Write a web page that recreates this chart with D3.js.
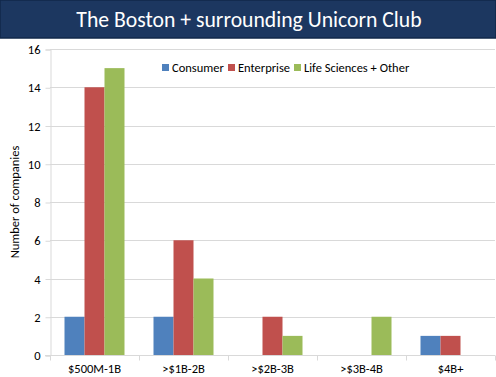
<!DOCTYPE html>
<meta charset="utf-8">
<title>The Boston + surrounding Unicorn Club</title>
<style>
    body { margin: 0; background: #fff; }
    text { font-family: Calibri, Carlito, Lato, sans-serif; }
    .grid line { stroke: #d9d9d9; stroke-width: 1; }
    .axis path, .axis line { stroke: #d9d9d9; }
    .axis text { font-size: 11px; fill: #000; }
</style>
<svg width="496" height="377"></svg>
<script src="https://d3js.org/d3.v7.min.js"></script>
<script>

    var categories = ["$500M-1B", ">$1B-2B", ">$2B-3B", ">$3B-4B", "$4B+"];
    var seriesNames = ["Consumer", "Enterprise", "Life Sciences + Other"];
    var consumer = [2, 2, 0, 0, 1];
    var enterprise = [14, 6, 2, 0, 1];
    var lifeSciences = [15, 4, 1, 2, 0];
    var yTicks = [0, 2, 4, 6, 8, 10, 12, 14, 16];
    var colors = ["#4f81bd", "#c0504d", "#9bbb59"];

    var seriesValues = [consumer, enterprise, lifeSciences];

    var svg = d3.select("svg");

    // title banner
    svg.append("rect")
        .attr("x", 0).attr("y", 0)
        .attr("width", 496).attr("height", 38)
        .attr("fill", "#1c3760")
        .attr("stroke", "#10284a")
        .attr("stroke-width", 1.5);

    svg.append("text")
        .attr("x", 249).attr("y", 27)
        .attr("text-anchor", "middle")
        .attr("fill", "#fff")
        .style("font-size", "21.7px")
        .text("The Boston + surrounding Unicorn Club");

    var mLeft = 50, mRight = 495, mTop = 49, mBottom = 355;

    var x = d3.scaleBand()
        .domain(categories)
        .range([mLeft, mRight])
        .paddingInner(0)
        .paddingOuter(0);

    var x1 = d3.scaleBand()
        .domain(seriesNames)
        .range([0, x.bandwidth()])
        .paddingInner(0)
        .paddingOuter(0.725);

    var y = d3.scaleLinear()
        .domain([0, 16])
        .range([mBottom, mTop]);

    // gridlines
    svg.append("g")
        .attr("class", "grid")
        .selectAll("line")
        .data(yTicks.slice(1))
        .enter().append("line")
        .attr("x1", mLeft).attr("x2", mRight)
        .attr("y1", function (d) { return Math.round(y(d)) + 0.5; })
        .attr("y2", function (d) { return Math.round(y(d)) + 0.5; });

    // y axis
    var yAxis = svg.append("g")
        .attr("class", "axis")
        .attr("transform", "translate(" + (mLeft + 0.5) + ",0.5)")
        .call(d3.axisLeft(y).tickValues(yTicks).tickSize(5).tickPadding(5));
    yAxis.selectAll("text").style("font-size", "12.5px");

    // bars
    var groups = svg.append("g")
        .selectAll("g")
        .data(categories)
        .enter().append("g")
        .attr("transform", function (d) { return "translate(" + x(d) + ",0)"; });

    groups.selectAll("rect")
        .data(function (d, i) {
            return seriesNames.map(function (s, j) {
                return { series: s, value: seriesValues[j][i], color: colors[j] };
            });
        })
        .enter().append("rect")
        .attr("x", function (d) { return x1(d.series); })
        .attr("width", x1.bandwidth())
        .attr("y", function (d) { return y(d.value); })
        .attr("height", function (d) { return y(0) - y(d.value); })
        .attr("fill", function (d) { return d.color; });

    // x axis
    var xAxis = svg.append("g")
        .attr("class", "axis")
        .attr("transform", "translate(0," + (mBottom + 0.5) + ")")
        .call(d3.axisBottom(x).tickSize(0).tickPadding(9));
    xAxis.select(".domain").remove();
    xAxis.append("line")
        .attr("x1", mLeft - 5).attr("x2", mRight)
        .attr("stroke", "#d9d9d9");
    xAxis.selectAll(".sep")
        .data(categories.concat(["end"]))
        .enter().append("line")
        .attr("class", "sep")
        .attr("x1", function (d, i) { return Math.round(mLeft + i * x.bandwidth()) + 0.5; })
        .attr("x2", function (d, i) { return Math.round(mLeft + i * x.bandwidth()) + 0.5; })
        .attr("y1", 0).attr("y2", 5)
        .attr("stroke", "#d9d9d9");
    xAxis.selectAll(".tick text").style("font-size", "12.5px");

    // y axis title
    svg.append("text")
        .attr("transform", "translate(19," + ((mTop + mBottom) / 2) + ") rotate(-90)")
        .attr("text-anchor", "middle")
        .style("font-size", "12.5px")
        .text("Number of companies");

    // legend
    var legend = svg.append("g")
        .attr("transform", "translate(162,68)");
    var offsets = [0, 66, 132];
    seriesNames.forEach(function (s, i) {
        var g = legend.append("g").attr("transform", "translate(" + offsets[i] + ",0)");
        g.append("rect")
            .attr("x", 0).attr("y", -4)
            .attr("width", 7).attr("height", 7)
            .attr("fill", colors[i]);
        g.append("text")
            .attr("x", 10).attr("y", 4)
            .style("font-size", "12.5px")
            .text(s);
    });

</script>
